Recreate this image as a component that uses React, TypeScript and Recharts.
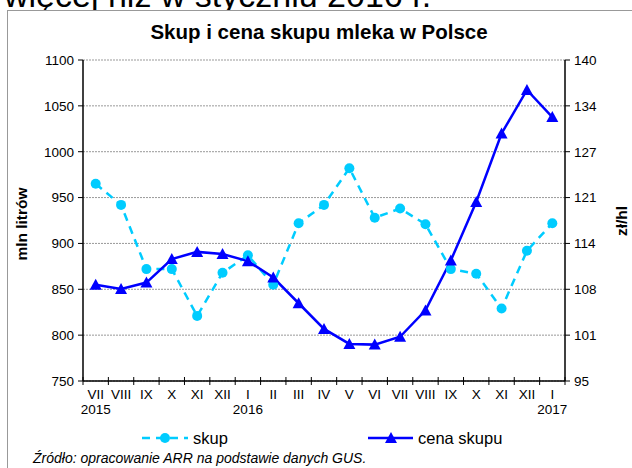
import { CartesianGrid, Line, LineChart, XAxis, YAxis } from "recharts";

const months = ["VII", "VIII", "IX", "X", "XI", "XII", "I", "II", "III", "IV", "V", "VI", "VII", "VIII", "IX", "X", "XI", "XII", "I"];
const years = ["2015", "", "", "", "", "", "2016", "", "", "", "", "", "", "", "", "", "", "", "2017"];
const skup = [965, 942, 872, 872, 821, 868, 887, 855, 922, 942, 982, 928, 938, 921, 872, 867, 829, 892, 922];
const cena = [108.5, 107.9, 108.8, 112.1, 113.1, 112.8, 111.8, 109.5, 105.9, 102.3, 100.2, 100.1, 101.2, 104.9, 111.9, 120.1, 129.7, 135.8, 132.0];
const leftTicks = [750, 800, 850, 900, 950, 1000, 1050, 1100];
const rightTicks = [95, 95 + 45 / 7, 95 + 90 / 7, 95 + 135 / 7, 95 + 180 / 7, 95 + 225 / 7, 95 + 270 / 7, 140];

const data = months.map((m, i) => ({ x: i + 0.5, m, y: years[i], skup: skup[i], cena: cena[i] }));
// integer positions = category boundaries (tick marks), half positions = labels
const xTicks = Array.from({ length: 39 }, (_, i) => i / 2);

const FONT = "'Liberation Sans', Arial, sans-serif";
const SKUP = "#00CCFF";
const CENA = "#0000FF";

function MonthTick(props: any) {
  const { x, y, payload } = props;
  const v = payload.value as number;
  if (Number.isInteger(v)) {
    return <line x1={x} x2={x} y1={y - 4} y2={y + 4} stroke="#000" strokeWidth={1} />;
  }
  const idx = Math.floor(v);
  return (
    <g>
      <text x={x} y={y + 18} textAnchor="middle" fontSize={13.5} fill="#000" fontFamily={FONT}>
        {months[idx]}
      </text>
      {years[idx] && (
        <text x={x} y={y + 33} textAnchor="middle" fontSize={13.5} fill="#000" fontFamily={FONT}>
          {years[idx]}
        </text>
      )}
    </g>
  );
}

function Triangle(props: any) {
  const { cx, cy } = props;
  if (cx == null || cy == null) return null;
  return <path d={`M${cx},${cy - 6} L${cx + 6},${cy + 5} L${cx - 6},${cy + 5} Z`} fill={CENA} />;
}

export default function App() {
  return (
    <div style={{ position: "absolute", left: 0, top: 0, width: 632, height: 468, background: "#fff", overflow: "hidden", fontFamily: FONT }}>
      <div style={{ position: "absolute", left: 4, top: -24, fontSize: 34, whiteSpace: "nowrap", color: "#000" }}>
        więcej niż w styczniu 2016 r.
      </div>
      <div style={{ position: "absolute", left: 7, top: 10, width: 640, height: 470, borderLeft: "1.5px solid #999", borderTop: "1.5px solid #999", background: "#fff" }} />
      <div style={{ position: "absolute", left: 0, width: 638, top: 20, textAlign: "center", fontSize: 20.5, fontWeight: "bold" }}>
        Skup i cena skupu mleka w Polsce
      </div>
      <div style={{ position: "absolute", left: 22, top: 224, transform: "translate(-50%, -50%) rotate(-90deg)", fontSize: 15.5, fontWeight: "bold", whiteSpace: "nowrap" }}>
        mln litrów
      </div>
      <div style={{ position: "absolute", left: 622, top: 221, transform: "translate(-50%, -50%) rotate(-90deg)", fontSize: 15.5, fontWeight: "bold", whiteSpace: "nowrap" }}>
        zł/hl
      </div>
      <div style={{ position: "absolute", left: 0, top: 0 }}>
        <LineChart width={632} height={468} data={data} margin={{ top: 60, right: 17, left: 33, bottom: 57 }}>
          <CartesianGrid yAxisId="left" vertical={false} stroke="#999" strokeDasharray="2 1" horizontalValues={leftTicks} />
          <XAxis
            dataKey="x"
            type="number"
            domain={[0, 19]}
            ticks={xTicks}
            interval={0}
            height={30}
            tickLine={false}
            tickSize={0}
            tickMargin={0}
            axisLine={{ stroke: "#000", strokeWidth: 1.5 }}
            tick={<MonthTick />}
          />
          <YAxis
            yAxisId="left"
            domain={[750, 1100]}
            ticks={leftTicks}
            interval={0}
            width={50}
            tickSize={5}
            tickMargin={4}
            axisLine={{ stroke: "#000", strokeWidth: 1.5 }}
            tickLine={{ stroke: "#000" }}
            tick={{ fontSize: 13.5, fill: "#000", fontFamily: FONT }}
          />
          <YAxis
            yAxisId="right"
            orientation="right"
            domain={[95, 140]}
            ticks={rightTicks}
            interval={0}
            width={50}
            tickSize={5}
            tickMargin={4}
            axisLine={{ stroke: "#000", strokeWidth: 1.5 }}
            tickLine={{ stroke: "#000" }}
            tick={{ fontSize: 13.5, fill: "#000", fontFamily: FONT, textAnchor: "start" }}
            tickFormatter={(v: number) => String(Math.round(v))}
          />
          <Line
            yAxisId="left"
            dataKey="skup"
            stroke={SKUP}
            strokeWidth={2.5}
            strokeDasharray="8 6"
            dot={{ r: 5, fill: SKUP, stroke: SKUP, strokeWidth: 0 }}
            isAnimationActive={false}
          />
          <Line
            yAxisId="right"
            dataKey="cena"
            stroke={CENA}
            strokeWidth={2.5}
            dot={<Triangle />}
            isAnimationActive={false}
          />
        </LineChart>
      </div>
      <svg style={{ position: "absolute", left: 0, top: 0 }} width={632} height={468}>
        <line x1={142} x2={188} y1={438} y2={438} stroke={SKUP} strokeWidth={2.5} strokeDasharray="8 6" />
        <circle cx={165} cy={438} r={5} fill={SKUP} />
        <text x={193} y={444} fontSize={16.5} fontFamily={FONT}>skup</text>
        <line x1={368} x2={413} y1={438} y2={438} stroke={CENA} strokeWidth={2.5} />
        <path d="M391,432 L397,443 L385,443 Z" fill={CENA} />
        <text x={418} y={444} fontSize={16.5} fontFamily={FONT}>cena skupu</text>
      </svg>
      <div style={{ position: "absolute", left: 33, top: 450, fontSize: 14, fontStyle: "italic", whiteSpace: "nowrap" }}>
        Źródło: opracowanie ARR na podstawie danych GUS.
      </div>
    </div>
  );
}
